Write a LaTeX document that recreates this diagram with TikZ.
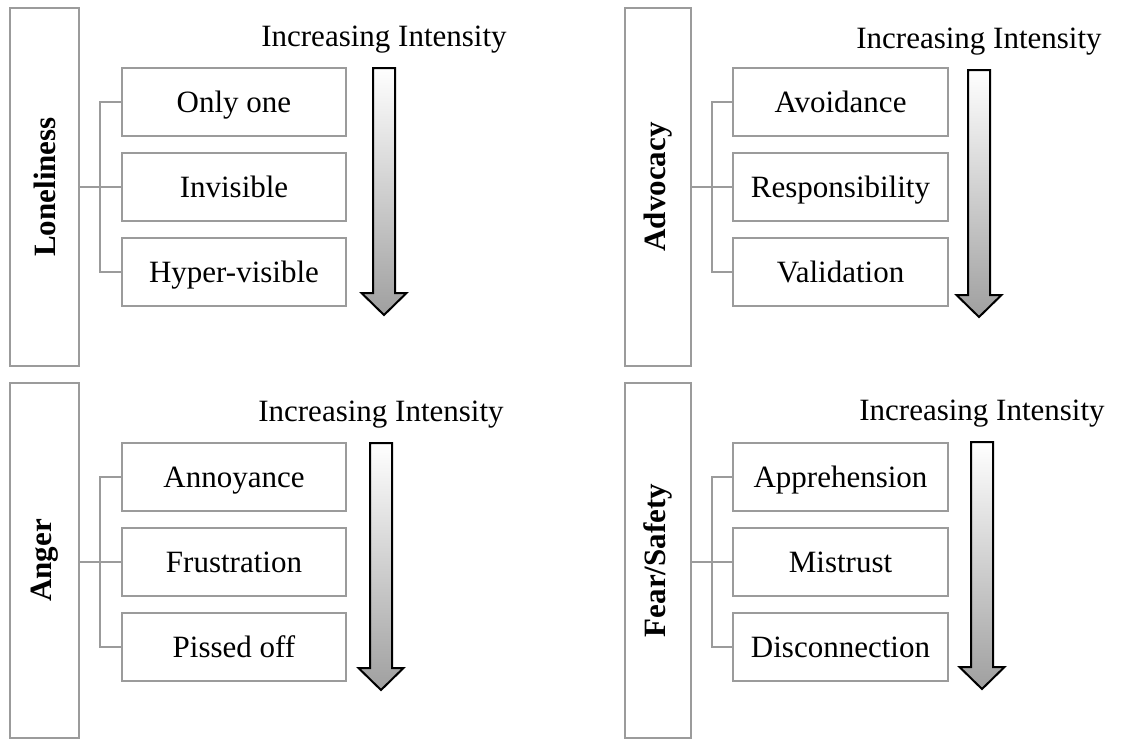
\documentclass[tikz,border=0pt]{standalone}
\usepackage{fontspec}
\setmainfont{Liberation Serif}
\usetikzlibrary{positioning,calc}

\definecolor{boxgray}{RGB}{155,155,155}

\tikzset{
  catbox/.style={draw=boxgray, line width=2pt, rotate=90, outer sep=0pt,
    inner sep=0pt, font=\fontsize{31}{36}\selectfont\bfseries},
  itembox/.style={draw=boxgray, line width=2pt, outer sep=0pt, inner sep=0pt,
    minimum height=68pt, text height=20.5pt, text depth=0pt,
    font=\fontsize{31}{36}\selectfont},
  link/.style={draw=boxgray, line width=2pt},
  intens/.style={anchor=base, inner sep=0pt, font=\fontsize{31}{36}\selectfont},
  bigarrow/.style={draw=black, line width=2pt, line join=miter,
    top color=white, bottom color=gray!75}
}

\begin{document}
\begin{tikzpicture}[x=1pt,y=-1pt]

  \useasboundingbox (0,0) rectangle (1143,740);

  % Loneliness
  \node[catbox, minimum width=358pt, minimum height=69pt] (lone) at (44.5,187) {Loneliness};
  \node[itembox, minimum width=224pt] (only) at (234,102) {Only one};
  \node[itembox, minimum width=224pt, below=17pt of only] (invis) {Invisible};
  \node[itembox, minimum width=224pt, below=17pt of invis] (hyper) {Hyper-visible};
  \coordinate (spineTL) at (100,187);
  \draw[link] (only.west) -- (only.west -| spineTL) |- (hyper.west);
  \draw[link] (lone.south) -- (invis.west);
  \coordinate (arrTL) at (384,68);
  \draw[bigarrow] (arrTL) ++(-11,0) -- ++(22,0) -- ++(0,225) -- ++(11.5,0) -- ++(-22.5,22)
    -- ++(-22.5,-22) -- ++(11.5,0) -- cycle;
  \node[intens] (incTL) at ($(arrTL)+(0,-22)$) {Increasing Intensity};

  % Advocacy
  \node[catbox, minimum width=358pt, minimum height=66pt] (advo) at (658,187) {Advocacy};
  \node[itembox, minimum width=215pt] (avoid) at (840.5,102) {Avoidance};
  \node[itembox, minimum width=215pt, below=17pt of avoid] (resp) {Responsibility};
  \node[itembox, minimum width=215pt, below=17pt of resp] (valid) {Validation};
  \coordinate (spineTR) at (712,187);
  \draw[link] (avoid.west) -- (avoid.west -| spineTR) |- (valid.west);
  \draw[link] (advo.south) -- (resp.west);
  \coordinate (arrTR) at (979,70);
  \draw[bigarrow] (arrTR) ++(-11,0) -- ++(22,0) -- ++(0,225) -- ++(11.5,0) -- ++(-22.5,22)
    -- ++(-22.5,-22) -- ++(11.5,0) -- cycle;
  \node[intens] (incTR) at ($(arrTR)+(0,-22)$) {Increasing Intensity};

  % Anger
  \node[catbox, minimum width=355pt, minimum height=69pt] (anger) at (44.5,560.5) {Anger};
  \node[itembox, minimum width=224pt] (annoy) at (234,477) {Annoyance};
  \node[itembox, minimum width=224pt, below=17pt of annoy] (frust) {Frustration};
  \node[itembox, minimum width=224pt, below=17pt of frust] (pissed) {Pissed off};
  \coordinate (spineBL) at (100,562);
  \draw[link] (annoy.west) -- (annoy.west -| spineBL) |- (pissed.west);
  \draw[link] (anger.south |- frust.west) -- (frust.west);
  \coordinate (arrBL) at (381,443);
  \draw[bigarrow] (arrBL) ++(-11,0) -- ++(22,0) -- ++(0,225) -- ++(11.5,0) -- ++(-22.5,22)
    -- ++(-22.5,-22) -- ++(11.5,0) -- cycle;
  \node[intens] (incBL) at ($(arrBL)+(0,-22)$) {Increasing Intensity};

  % Fear/Safety
  \node[catbox, minimum width=355pt, minimum height=66pt] (fear) at (658,560.5) {Fear/Safety};
  \node[itembox, minimum width=215pt] (appre) at (840.5,477) {Apprehension};
  \node[itembox, minimum width=215pt, below=17pt of appre] (mistr) {Mistrust};
  \node[itembox, minimum width=215pt, below=17pt of mistr] (disco) {Disconnection};
  \coordinate (spineBR) at (712,562);
  \draw[link] (appre.west) -- (appre.west -| spineBR) |- (disco.west);
  \draw[link] (fear.south |- mistr.west) -- (mistr.west);
  \coordinate (arrBR) at (982,442);
  \draw[bigarrow] (arrBR) ++(-11,0) -- ++(22,0) -- ++(0,225) -- ++(11.5,0) -- ++(-22.5,22)
    -- ++(-22.5,-22) -- ++(11.5,0) -- cycle;
  \node[intens] (incBR) at ($(arrBR)+(0,-22)$) {Increasing Intensity};

\end{tikzpicture}
\end{document}
